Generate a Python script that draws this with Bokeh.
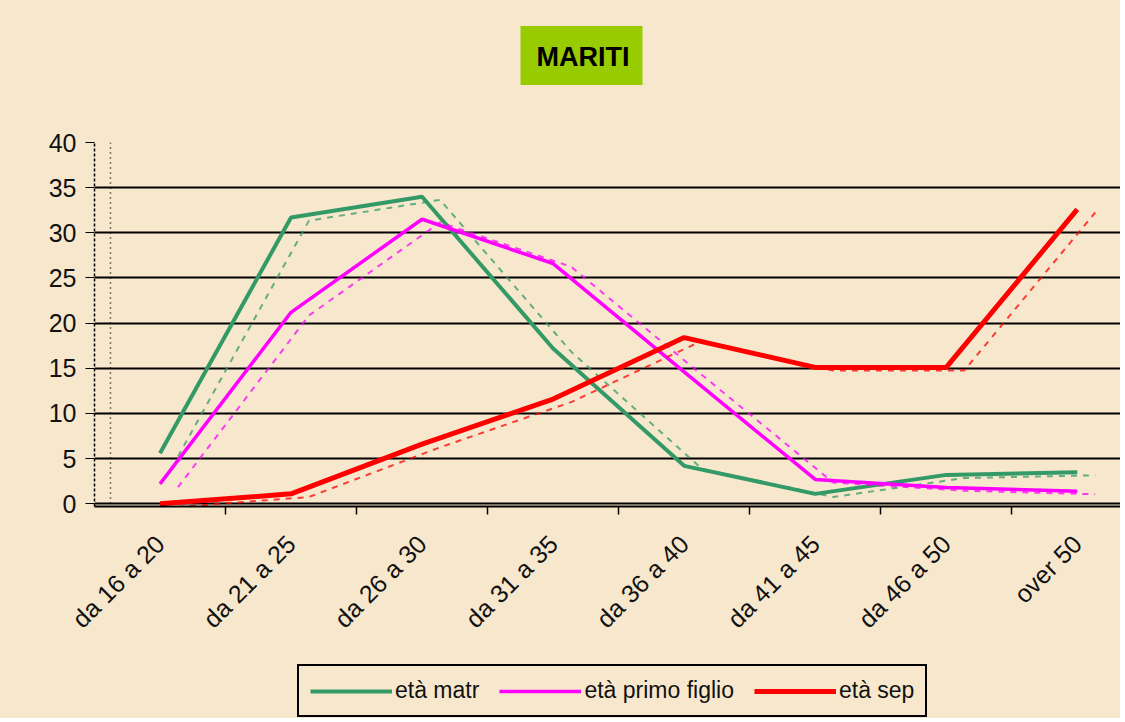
from bokeh.plotting import figure
from bokeh.layouts import column
from bokeh.models import Range1d, FixedTicker, Legend, LegendItem, ColumnDataSource, Span, Label
from bokeh.transform import dodge
from bokeh.embed import file_html
from bokeh.resources import INLINE

categories = ["da 16 a 20", "da 21 a 25", "da 26 a 30", "da 31 a 35",
              "da 36 a 40", "da 41 a 45", "da 46 a 50", "over 50"]
eta_matr = [5.6, 31.7, 34.0, 17.2, 4.2, 1.1, 3.2, 3.5]
eta_primo_figlio = [2.2, 21.2, 31.5, 26.6, 14.6, 2.7, 1.8, 1.4]
eta_sep = [0.0, 1.1, 6.6, 11.6, 18.4, 15.1, 15.1, 32.6]
y_ticks = [0, 5, 10, 15, 20, 25, 30, 35, 40]
series_names = ["età matr", "età primo figlio", "età sep"]
series_colors = ["#339966", "#FF00FF", "#FF0000"]
chart_title = "MARITI"

BG = "#F7E8CD"
FONT = "Liberation Sans"
W = 1120
FRAME_W = W - 94

xs = list(range(len(categories)))
series_values = [eta_matr, eta_primo_figlio, eta_sep]


def strip(height):
    s = figure(width=W, height=height, output_backend="svg", toolbar_location=None,
               x_axis_location=None, y_axis_location=None,
               x_range=Range1d(0, FRAME_W), y_range=Range1d(0, height),
               min_border=0, min_border_left=94, min_border_right=0,
               min_border_top=0, min_border_bottom=0)
    s.background_fill_color = BG
    s.border_fill_color = BG
    s.outline_line_color = None
    s.grid.grid_line_color = None
    return s


# title strip (pixel-scaled ranges)
p0 = strip(100)
p0.add_layout(Label(x=487, y=45, text=chart_title, text_align="center",
                    text_baseline="middle", text_font=FONT, text_font_size="27px",
                    text_font_style="bold", text_color="black",
                    background_fill_color="#99CC00", padding=(16, 13, 16, 13)))

p = figure(width=W, height=560, output_backend="svg", toolbar_location=None,
           x_range=Range1d(-0.5, 7.33), y_range=Range1d(-0.3, 40.0),
           min_border_left=94, min_border_right=0, min_border_top=42,
           min_border_bottom=154)
p.background_fill_color = BG
p.border_fill_color = BG
p.outline_line_color = None

# grid
p.xgrid.grid_line_color = None
p.ygrid.ticker = FixedTicker(ticks=y_ticks)
p.ygrid.grid_line_color = "black"
p.ygrid.grid_line_width = 2

# y axis
p.yaxis.ticker = FixedTicker(ticks=y_ticks)
p.yaxis.axis_line_color = "black"
p.yaxis.axis_line_dash = "3 2"
p.yaxis.axis_line_width = 1.5
p.yaxis.major_tick_out = 9
p.yaxis.major_tick_in = 0
p.yaxis.minor_tick_line_color = None
p.yaxis.major_label_standoff = 9
p.yaxis.major_label_text_font = FONT
p.yaxis.major_label_text_font_size = "25px"
p.yaxis.major_label_text_color = "#111111"

# dotted vertical line next to the value axis (as in the original)
p.add_layout(Span(location=-0.378, dimension="height", line_color="black",
                  line_dash="1 4", line_width=1.5))

# x axis
p.xaxis.ticker = FixedTicker(ticks=xs, minor_ticks=[i + 0.5 for i in xs[:-1]])
p.xaxis.major_label_overrides = {i: c for i, c in zip(xs, categories)}
p.xaxis.major_label_orientation = 0.785398
p.xaxis.major_tick_line_color = None
p.xaxis.minor_tick_out = 8
p.xaxis.minor_tick_in = 0
p.xaxis.minor_tick_line_color = "black"
p.xaxis.minor_tick_line_width = 1.5
p.xaxis.axis_line_color = "black"
p.xaxis.axis_line_width = 2
p.xaxis.major_label_standoff = 25
p.xaxis.major_label_text_font = FONT
p.xaxis.major_label_text_font_size = "25px"
p.xaxis.major_label_text_color = "#111111"

widths = [4, 3.5, 5]
for name, vals, col, w in zip(series_names, series_values, series_colors, widths):
    src = ColumnDataSource(dict(x=xs, y=vals))
    # offset "shadow" line as in the original image
    p.line(x=dodge("x", 0.137), y=dodge("y", -0.35), source=src, line_color=col,
           line_width=2, line_dash="6 6", line_alpha=0.75)
    p.line(x="x", y="y", source=src, line_color=col, line_width=w)

# legend strip below the chart (its own lines lie outside its visible range)
p2 = strip(58)
items = []
for name, vals, col, w in zip(series_names, series_values, series_colors, widths):
    r = p2.line(x=[v + 5000 for v in xs], y=vals, line_color=col, line_width=w)
    items.append(LegendItem(label=name, renderers=[r]))
legend = Legend(items=items, orientation="horizontal", location=(203, 1))
legend.label_text_font = FONT
legend.label_text_font_size = "23px"
legend.label_text_color = "#111111"
legend.glyph_width = 82
legend.glyph_height = 22
legend.label_height = 22
legend.label_standoff = 3
legend.spacing = 20
legend.padding = 11
legend.margin = 0
legend.border_line_color = "black"
legend.border_line_alpha = 1.0
legend.border_line_width = 2
legend.background_fill_color = BG
legend.background_fill_alpha = 1.0
p2.add_layout(legend, "center")

layout = column(p0, p, p2, spacing=0)
layout.styles = {"background-color": BG}
open("out.html", "w").write(file_html(layout, INLINE))
